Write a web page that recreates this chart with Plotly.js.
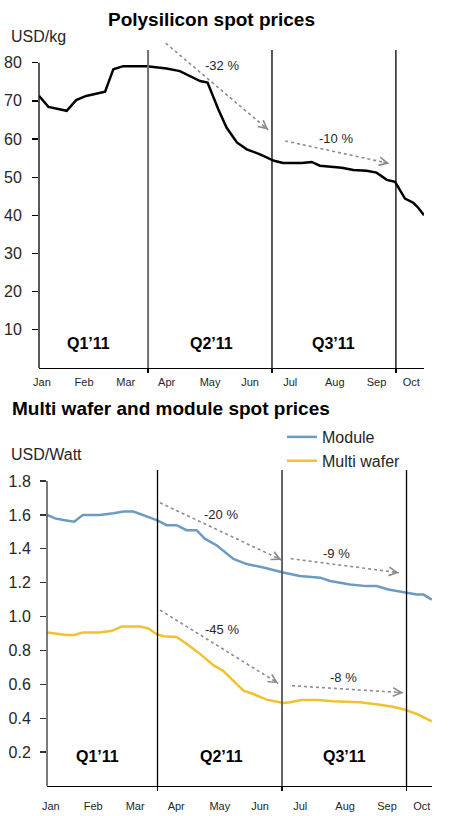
<!DOCTYPE html>
<html>
<head>
<meta charset="utf-8">
<script src="https://cdn.plot.ly/plotly-3.0.1.min.js"></script>
<style>html,body{margin:0;padding:0;background:#fff;}#chart{width:450px;height:816px;}</style>
</head>
<body>
<div id="chart"></div>
<script>
// ---- data (x in months since 1 Jan 2011) ----
const monthLabels = ['Jan','Feb','Mar','Apr','May','Jun','Jul','Aug','Sep','Oct'];
const monthTickPos = [0.43,1.45,2.46,3.45,4.5,5.47,6.44,7.52,8.53,9.37];
const quarterBounds = [3, 6, 9];
const quarterLabels = ['Q1\u201911','Q2\u201911','Q3\u201911'];
const quarterLabelPos = [1.55, 4.53, 7.5];

const polyMonth = [0.36,0.59,1.03,1.26,1.50,1.76,1.96,2.16,2.40,2.97,3.45,3.77,4.02,4.26,4.44,4.70,4.90,5.15,5.39,5.71,6.05,6.27,6.72,6.96,7.16,7.48,7.69,7.97,8.29,8.53,8.78,8.98,9.22,9.42,9.54,9.68];
const polyPrice = [71.3,68.4,67.4,70.2,71.3,72.0,72.4,78.3,79.1,79.1,78.5,77.8,76.5,75.2,74.8,67.8,63.0,59.1,57.3,56.0,54.3,53.7,53.7,54.0,53.0,52.7,52.5,51.9,51.7,51.2,49.3,48.8,44.4,43.3,42.0,40.0];

const moduleMonth = [0.345,0.53,0.73,0.99,1.20,1.61,1.94,2.18,2.42,2.66,2.98,3.22,3.46,3.70,3.94,4.14,4.43,4.83,5.15,5.55,6.03,6.43,6.92,7.16,7.40,7.64,8.04,8.28,8.56,8.96,9.25,9.41,9.61];
const modulePrice = [1.60,1.58,1.57,1.56,1.60,1.60,1.61,1.62,1.62,1.60,1.57,1.54,1.54,1.51,1.51,1.46,1.42,1.34,1.31,1.29,1.26,1.24,1.23,1.21,1.20,1.19,1.18,1.18,1.16,1.14,1.13,1.13,1.10];

const waferMonth = [0.345,0.61,0.81,0.99,1.20,1.61,1.90,2.14,2.58,2.78,2.98,3.14,3.46,3.70,4.02,4.34,4.58,4.83,5.07,5.31,5.63,6.03,6.19,6.47,6.84,7.24,7.88,8.36,8.68,8.96,9.25,9.61];
const waferPrice = [0.906,0.896,0.892,0.892,0.906,0.906,0.916,0.941,0.941,0.93,0.896,0.884,0.88,0.84,0.78,0.714,0.68,0.62,0.563,0.543,0.51,0.49,0.494,0.508,0.508,0.50,0.494,0.48,0.468,0.45,0.425,0.382];

// trend arrows: [x0, y0, x1, y1, label, labelX, labelY]
const polyTrends = [
  [3.43, 85.1, 5.91, 62.4, '-32 %', 4.78, 79.4],
  [6.32, 59.5, 8.84, 53.6, '-10 %', 7.55, 60.2]
];
const moduleTrends = [
  [3.06, 1.672, 5.99, 1.334, '-20 %', 4.52, 1.604],
  [6.21, 1.342, 8.82, 1.259, '-9 %', 7.32, 1.374]
];
const waferTrends = [
  [3.06, 1.039, 5.91, 0.606, '-45 %', 4.55, 0.925],
  [6.24, 0.592, 8.92, 0.551, '-8 %', 7.49, 0.642]
];

// ---- styling ----
const FONT = 'Liberation Sans, Arial, sans-serif';
const TXT = '#262626';
const ARROW = '#8c8c8c';

const traces = [
  {x: polyMonth, y: polyPrice, xaxis: 'x', yaxis: 'y', type: 'scatter', mode: 'lines',
   line: {color: '#000000', width: 2.5}, showlegend: false, hoverinfo: 'skip'},
  {x: moduleMonth, y: modulePrice, xaxis: 'x2', yaxis: 'y2', type: 'scatter', mode: 'lines',
   name: 'Module', line: {color: '#6b9bc4', width: 2.5}},
  {x: waferMonth, y: waferPrice, xaxis: 'x2', yaxis: 'y2', type: 'scatter', mode: 'lines',
   name: 'Multi wafer', line: {color: '#f2c12e', width: 2.5}}
];

const shapes = [];
const annotations = [];

function addTrends(list, xr, yr, dirs) {
  list.forEach((t, i) => {
    shapes.push({type: 'line', xref: xr, yref: yr, x0: t[0], y0: t[1], x1: t[2], y1: t[3],
      line: {color: ARROW, width: 1.6, dash: 'dot'}, layer: 'above'});
    annotations.push({xref: xr, yref: yr, x: t[2], y: t[3], ax: dirs[i][0], ay: dirs[i][1],
      axref: 'pixel', ayref: 'pixel', text: '', showarrow: true, arrowhead: 5,
      arrowsize: 1.5, arrowwidth: 1.1, arrowcolor: ARROW, standoff: 0});
    annotations.push({xref: xr, yref: yr, x: t[5], y: t[6], text: t[4], showarrow: false,
      font: {family: FONT, size: 13, color: TXT}});
  });
}
addTrends(polyTrends, 'x', 'y', [[-6.1,-5.2],[-7.8,-1.7]]);
addTrends(moduleTrends, 'x2', 'y2', [[-7.2,-3.4],[-7.9,-1.0]]);
addTrends(waferTrends, 'x2', 'y2', [[-6.8,-4.2],[-8,-0.5]]);

// quarter separators
const topLineStyle = [{color:'#707070', width:2}, {color:'#000', width:1.3}, {color:'#000', width:1.3}];
const botLineStyle = [{color:'#000', width:1.3}, {color:'#555', width:1.8}, {color:'#000', width:1.3}];
quarterBounds.forEach((q, i) => {
  shapes.push({type:'line', xref:'x', yref:'y', x0:q, x1:q, y0:0, y1:83.3, line: topLineStyle[i], layer:'above'});
  shapes.push({type:'line', xref:'x2', yref:'y2', x0:q, x1:q, y0:0, y1:1.865, line: botLineStyle[i], layer:'above'});
});
// y axis lines up to the top tick
shapes.push({type:'line', xref:'x domain', yref:'y', x0:0, x1:0, y0:0, y1:80, line:{color:'#000', width:1.3}});
shapes.push({type:'line', xref:'x2 domain', yref:'y2', x0:0, x1:0, y0:0, y1:1.8, line:{color:'#333', width:1.3}});

// quarter labels
quarterLabels.forEach((q, i) => {
  annotations.push({xref:'x', yref:'y', x: quarterLabelPos[i], y: 6.3, text: '<b>'+q+'</b>', showarrow:false,
    font:{family: FONT, size:16, color:'#000'}});
  annotations.push({xref:'x2', yref:'y2', x: quarterLabelPos[i], y: 0.173, text: '<b>'+q+'</b>', showarrow:false,
    font:{family: FONT, size:16, color:'#000'}});
});

// titles and units
annotations.push({xref:'paper', yref:'paper', x: 211/450, y: 1-19/816, xanchor:'center', yanchor:'middle',
  text:'<b>Polysilicon spot prices</b>', showarrow:false, font:{family:FONT, size:19, color:'#000'}});
annotations.push({xref:'paper', yref:'paper', x: 9/450, y: 1-37/816, xanchor:'left', yanchor:'middle',
  text:'USD/kg', showarrow:false, font:{family:FONT, size:16, color:TXT}});
annotations.push({xref:'paper', yref:'paper', x: 10/450, y: 1-408/816, xanchor:'left', yanchor:'middle',
  text:'<b>Multi wafer and module spot prices</b>', showarrow:false, font:{family:FONT, size:19, color:'#000'}});
annotations.push({xref:'paper', yref:'paper', x: 9/450, y: 1-454/816, xanchor:'left', yanchor:'middle',
  text:'USD/Watt', showarrow:false, font:{family:FONT, size:16, color:TXT}});

const xCommon = {
  tickmode:'array', tickvals: monthTickPos, ticktext: monthLabels, ticks:'',
  tickfont:{family:FONT, size:11, color:TXT}, showgrid:false, zeroline:false,
  showline:true, linecolor:'#000', linewidth:1.3,
  minor:{tickmode:'array', tickvals: quarterBounds, ticks:'outside', ticklen:4, tickcolor:'#000', tickwidth:1.3, showgrid:false},
  fixedrange:true
};

const layout = {
  width:450, height:816, margin:{l:0, r:0, t:0, b:0},
  paper_bgcolor:'#fff', plot_bgcolor:'rgba(0,0,0,0)',
  font:{family:FONT, color:TXT},
  xaxis: Object.assign({}, xCommon, {domain:[39/450, 424/450], range:[0.36, 9.68], anchor:'y', ticklabelstandoff:3}),
  yaxis: {domain:[1-368/816, 1-40/816], range:[0, 85.95], anchor:'x', tickmode:'array',
    tickvals:[10,20,30,40,50,60,70,80], ticks:'outside', ticklen:6, tickcolor:'#000', tickwidth:1.3,
    tickfont:{family:FONT, size:16, color:TXT}, showgrid:false, zeroline:false, showline:false, ticklabelstandoff:7},
  xaxis2: Object.assign({}, xCommon, {domain:[47/450, 432/450], range:[0.337, 9.614], anchor:'y2', ticklabelstandoff:9}),
  yaxis2: {domain:[1-786/816, 1-465/816], range:[0, 1.895], anchor:'x2', tickmode:'array',
    tickvals:[0.2,0.4,0.6,0.8,1.0,1.2,1.4,1.6,1.8], ticktext:['0.2','0.4','0.6','0.8','1.0','1.2','1.4','1.6','1.8'],
    ticks:'outside', ticklen:6, tickcolor:'#333', tickwidth:1.3,
    tickfont:{family:FONT, size:16, color:TXT}, showgrid:false, zeroline:false, showline:false, ticklabelstandoff:6},
  showlegend:true,
  legend:{x:282/450, y:1-420/816, xanchor:'left', yanchor:'top', bgcolor:'rgba(0,0,0,0)',
    font:{family:FONT, size:16, color:TXT}, tracegroupgap:0, itemwidth:30},
  shapes: shapes,
  annotations: annotations
};

Plotly.newPlot('chart', traces, layout, {staticPlot:true, displayModeBar:false});
</script>
</body>
</html>
